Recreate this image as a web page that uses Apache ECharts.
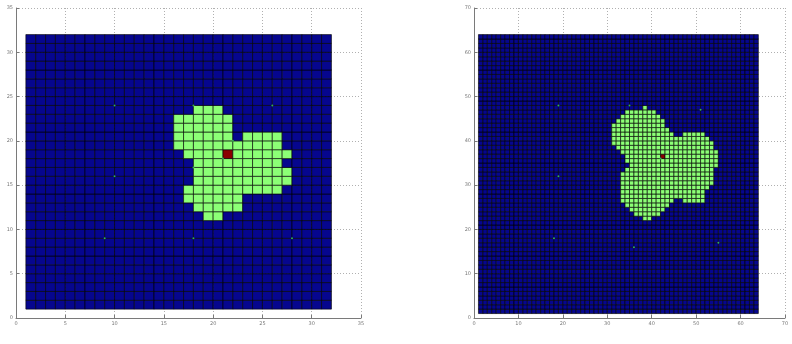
<!DOCTYPE html>
<html>
<head>
<meta charset="utf-8">
<script src="https://cdn.jsdelivr.net/npm/echarts@6/dist/echarts.min.js"></script>
<style>
html,body{margin:0;padding:0;background:#fff;}
#chart{width:792px;height:344px;}
</style>
</head>
<body>
<div id="chart"></div>
<script>
// ---------- DATA ----------
// Left panel: 32x32 vertex grid (cells 1..31)
const leftGridN = 32;
const leftTicks = [0, 5, 10, 15, 20, 25, 30, 35];
// green runs: [row j, first column i, last column i]
const leftGreenRuns = [
  [23, 18, 20],
  [22, 16, 21],
  [21, 16, 21],
  [20, 16, 21], [20, 23, 26],
  [19, 16, 26],
  [18, 17, 27],
  [17, 18, 26],
  [16, 18, 27],
  [15, 18, 27],
  [14, 17, 26],
  [13, 17, 22],
  [12, 18, 22],
  [11, 19, 20]
];
const leftRedCells = [[21, 18]];
const leftDots = [[10, 24], [18, 24], [26, 24], [10, 16], [9, 9], [18, 9], [28, 9], [21, 18], [18, 17], [22, 20]];

// Right panel: 64x64 vertex grid (cells 1..63)
const rightGridN = 64;
const rightTicks = [0, 10, 20, 30, 40, 50, 60, 70];
const rightGreenRuns = [
  [47, 38, 38],
  [46, 34, 40],
  [45, 33, 41],
  [44, 32, 42],
  [43, 31, 42],
  [42, 31, 43],
  [41, 31, 44], [41, 47, 51],
  [40, 31, 52],
  [39, 31, 53],
  [38, 32, 53],
  [37, 33, 54],
  [36, 34, 54],
  [35, 34, 54],
  [34, 35, 54],
  [33, 34, 53],
  [32, 33, 53],
  [31, 33, 53],
  [30, 33, 53],
  [29, 33, 52],
  [28, 33, 51],
  [27, 33, 51],
  [26, 33, 44], [26, 47, 51],
  [25, 34, 43],
  [24, 35, 42],
  [23, 36, 41],
  [22, 38, 39]
];
const rightRedCells = [[42, 36]];
const rightDots = [[19, 48], [35, 48], [51, 47], [19, 32], [18, 18], [36, 16], [55, 17], [42, 36]];

// state colours: 0 empty, 1 green, 2 red
const stateColors = ['#06068e', '#8cff76', '#8a0000'];

// ---------- BUILD ----------
function buildCells(n, runs, reds) {
  const map = {};
  runs.forEach(r => { for (let i = r[1]; i <= r[2]; i++) map[i + '_' + r[0]] = 1; });
  reds.forEach(c => { map[c[0] + '_' + c[1]] = 2; });
  const out = [];
  for (let j = 1; j < n; j++) {
    for (let i = 1; i < n; i++) {
      out.push([i, j, map[i + '_' + j] || 0]);
    }
  }
  return out;
}
const leftCells = buildCells(leftGridN, leftGreenRuns, leftRedCells);
const rightCells = buildCells(rightGridN, rightGreenRuns, rightRedCells);

function renderCell(params, api) {
  const i = api.value(0), j = api.value(1), v = api.value(2);
  const p0 = api.coord([i, j + 1]);
  const p1 = api.coord([i + 1, j]);
  return {
    type: 'rect',
    shape: { x: p0[0], y: p0[1], width: p1[0] - p0[0], height: p1[1] - p0[1] },
    style: { fill: stateColors[v], stroke: 'rgba(0,0,0,0.78)', lineWidth: 0.8 }
  };
}

function axisCfg(gridIndex, ticks) {
  return {
    gridIndex: gridIndex,
    type: 'value',
    min: ticks[0],
    max: ticks[ticks.length - 1],
    interval: ticks[1] - ticks[0],
    axisLine: { show: true, onZero: false, lineStyle: { color: '#7a7a7a', width: 1 } },
    axisTick: { show: true, inside: true, length: 3, lineStyle: { color: '#7a7a7a' } },
    axisLabel: { show: true, fontSize: 5, color: '#777', margin: 3, fontFamily: 'DejaVu Sans' },
    splitLine: { show: true, lineStyle: { color: '#b0b0b0', type: [1, 2], width: 1 } }
  };
}

const chart = echarts.init(document.getElementById('chart'), null, { renderer: 'canvas' });
chart.setOption({
  animation: false,
  backgroundColor: '#ffffff',
  grid: [
    { left: 16, top: 8, width: 345, height: 310 },
    { left: 474, top: 8, width: 311, height: 310 }
  ],
  xAxis: [axisCfg(0, leftTicks), axisCfg(1, rightTicks)],
  yAxis: [axisCfg(0, leftTicks), axisCfg(1, rightTicks)],
  series: [
    { type: 'custom', xAxisIndex: 0, yAxisIndex: 0, renderItem: renderCell, data: leftCells, silent: true },
    { type: 'custom', xAxisIndex: 1, yAxisIndex: 1, renderItem: renderCell, data: rightCells, silent: true },
    { type: 'scatter', xAxisIndex: 0, yAxisIndex: 0, data: leftDots, symbolSize: 2,
      itemStyle: { color: '#3fd06a' }, silent: true, z: 5 },
    { type: 'scatter', xAxisIndex: 1, yAxisIndex: 1, data: rightDots, symbolSize: 2,
      itemStyle: { color: '#3fd06a' }, silent: true, z: 5 }
  ]
});
</script>
</body>
</html>
